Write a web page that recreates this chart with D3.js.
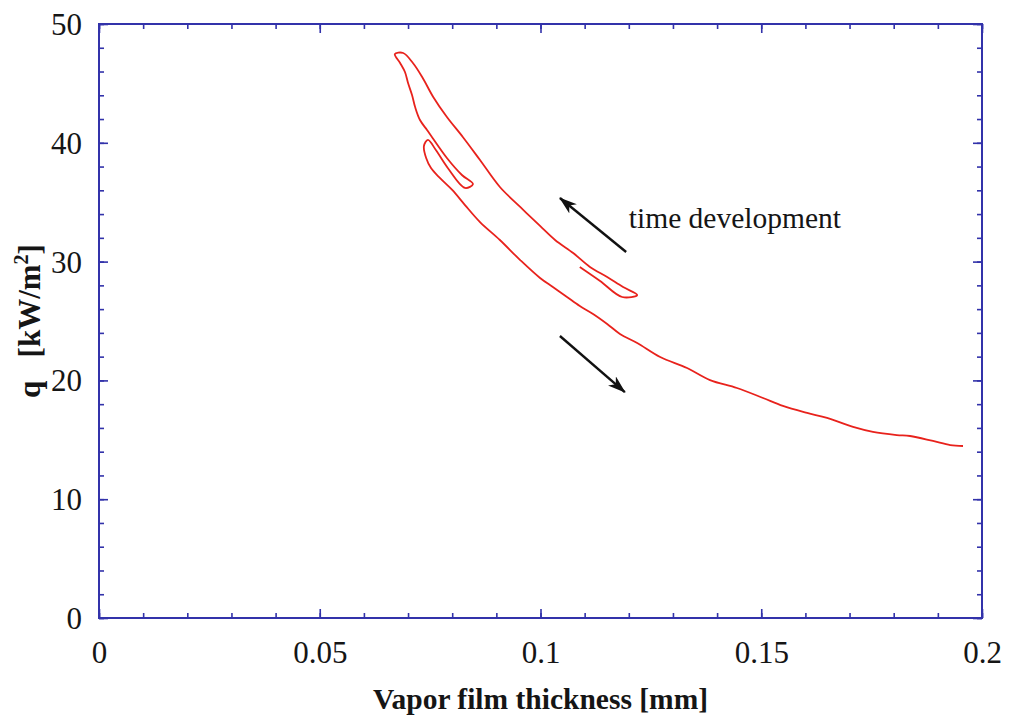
<!DOCTYPE html>
<html>
<head>
<meta charset="utf-8">
<script src="https://cdn.jsdelivr.net/npm/d3@7"></script>
<style>
  html, body { margin: 0; padding: 0; background: #ffffff; }
  svg { display: block; }
</style>
</head>
<body>
<svg id="chart" width="1010" height="720"></svg>
<script>
// Vapor film thickness [mm] vs heat flux q [kW/m²], traced as one continuous path in time order
const thickness = [
  0.1089, 0.1135, 0.1185, 0.1219,
  0.1187, 0.1151, 0.1112, 0.1074, 0.1033, 0.0999, 0.0954, 0.0908, 0.0863, 0.0824,
  0.0788, 0.0757, 0.0732, 0.0711, 0.0689, 0.0670,
  0.0682, 0.0693, 0.0700, 0.0709, 0.0716, 0.0727, 0.0743, 0.0754,
  0.0788, 0.0822, 0.0847, 0.0829, 0.0790, 0.0763, 0.0745,
  0.0736, 0.0741, 0.0752, 0.0772, 0.0800, 0.0829, 0.0863, 0.0908, 0.0954, 0.0999,
  0.1028, 0.1060, 0.1089, 0.1119, 0.1151, 0.1180, 0.1219, 0.1271, 0.1332, 0.1384,
  0.1445, 0.1504, 0.1549, 0.1604, 0.1649, 0.1708, 0.1753, 0.1807, 0.1837, 0.1889,
  0.1928, 0.1957
];
const heatFlux = [
  29.55, 28.37, 27.02, 27.19,
  27.86, 28.70, 29.55, 30.72, 31.82, 33.00, 34.60, 36.28, 38.55, 40.49,
  42.17, 43.86, 45.54, 46.72, 47.56, 47.47,
  46.72, 45.96, 45.03, 44.02, 43.01, 41.92, 41.08, 40.49,
  38.72, 37.29, 36.53, 36.20, 37.88, 39.39, 40.24,
  39.73, 38.72, 37.88, 37.04, 36.03, 34.76, 33.33, 31.82, 30.13, 28.62,
  27.86, 27.02, 26.26, 25.59, 24.75, 23.91, 23.15, 21.97, 21.04, 20.03,
  19.36, 18.52, 17.85, 17.26, 16.84, 16.08, 15.66, 15.40, 15.32, 14.90,
  14.56, 14.48
];

const xMajorTicks = [0, 0.05, 0.1, 0.15, 0.2];
const xTickLabels = ["0", "0.05", "0.1", "0.15", "0.2"];
const yMajorTicks = [0, 10, 20, 30, 40, 50];
const yTickLabels = ["0", "10", "20", "30", "40", "50"];

// Annotation arrows (start -> head) in data units
const arrowStarts = [[0.1194, 30.81], [0.1044, 23.74]];
const arrowHeads  = [[0.1044, 35.35], [0.1191, 19.02]];
const noteText = "time development";
const notePos = [0.1200, 33.70];

const svg = d3.select("#chart");
const plotLeft = 99, plotRight = 982, plotTop = 24, plotBottom = 618;
const frameColor = "#3232aa";

const x = d3.scaleLinear().domain([0, 0.2]).range([plotLeft, plotRight]);
const y = d3.scaleLinear().domain([0, 50]).range([plotBottom, plotTop]);

const serif = "'Liberation Serif', 'Times New Roman', serif";

// Ticks on all four sides, pointing inward
const xMinor = d3.range(0, 0.2001, 0.01);
const yMinor = d3.range(0, 50.001, 2);

function drawAxis(axisFn, scale, values, size, transform) {
  const g = svg.append("g").attr("transform", transform)
    .call(axisFn(scale).tickValues(values).tickSize(size).tickFormat(""));
  g.select(".domain").remove();
  g.selectAll(".tick line").attr("stroke", frameColor).attr("stroke-width", 1.6);
  return g;
}

drawAxis(d3.axisBottom, x, xMinor, -5, `translate(0,${plotBottom})`);
drawAxis(d3.axisBottom, x, xMajorTicks, -9, `translate(0,${plotBottom})`);
drawAxis(d3.axisTop, x, xMinor, -5, `translate(0,${plotTop})`);
drawAxis(d3.axisTop, x, xMajorTicks, -9, `translate(0,${plotTop})`);
drawAxis(d3.axisLeft, y, yMinor, -5, `translate(${plotLeft},0)`);
drawAxis(d3.axisLeft, y, yMajorTicks, -9, `translate(${plotLeft},0)`);
drawAxis(d3.axisRight, y, yMinor, -5, `translate(${plotRight},0)`);
drawAxis(d3.axisRight, y, yMajorTicks, -9, `translate(${plotRight},0)`);

// Frame
svg.append("rect")
  .attr("x", plotLeft).attr("y", plotTop)
  .attr("width", plotRight - plotLeft).attr("height", plotBottom - plotTop)
  .attr("fill", "none").attr("stroke", frameColor).attr("stroke-width", 2);

// Tick labels
const xLab = svg.append("g")
  .attr("transform", `translate(0,${plotBottom})`)
  .call(d3.axisBottom(x).tickValues(xMajorTicks).tickSize(0).tickPadding(0)
        .tickFormat((d, i) => xTickLabels[i]));
xLab.select(".domain").remove();
xLab.selectAll("text")
  .attr("dy", null).attr("y", 45)
  .style("font-family", serif).style("font-size", "31px").attr("fill", "#151515");

const yLab = svg.append("g")
  .attr("transform", `translate(${plotLeft},0)`)
  .call(d3.axisLeft(y).tickValues(yMajorTicks).tickSize(0).tickPadding(0)
        .tickFormat((d, i) => yTickLabels[i]));
yLab.select(".domain").remove();
yLab.selectAll("text")
  .attr("x", -17).attr("dy", "0.34em")
  .style("font-family", serif).style("font-size", "31px").attr("fill", "#151515");

// Axis titles
svg.append("text")
  .attr("x", (plotLeft + plotRight) / 2).attr("y", 709)
  .attr("text-anchor", "middle")
  .style("font-family", serif).style("font-size", "29.5px").style("font-weight", "bold")
  .attr("fill", "#151515")
  .text("Vapor film thickness [mm]");

const yTitle = svg.append("text")
  .attr("transform", `translate(40,${(plotTop + plotBottom) / 2}) rotate(-90)`)
  .attr("text-anchor", "middle")
  .attr("xml:space", "preserve")
  .style("white-space", "pre")
  .style("font-family", serif).style("font-size", "31px").style("font-weight", "bold")
  .attr("fill", "#151515");
yTitle.append("tspan").text("q   [kW/m");
yTitle.append("tspan").attr("dy", -12).style("font-size", "20px").text("2");
yTitle.append("tspan").attr("dy", 12).text("]");

// Data curve
const points = thickness.map((t, i) => [t, heatFlux[i]]);
svg.append("path")
  .datum(points)
  .attr("fill", "none")
  .attr("stroke", "#e8221c")
  .attr("stroke-width", 1.8)
  .attr("stroke-linejoin", "round")
  .attr("d", d3.line().x(d => x(d[0])).y(d => y(d[1])).curve(d3.curveCatmullRom.alpha(0.5)));

// Arrows
svg.append("defs").append("marker")
  .attr("id", "head")
  .attr("viewBox", "0 0 18 12")
  .attr("refX", 17).attr("refY", 6)
  .attr("markerWidth", 18).attr("markerHeight", 12)
  .attr("markerUnits", "userSpaceOnUse")
  .attr("orient", "auto")
  .append("path")
  .attr("d", "M0,0 L18,6 L0,12 L5,6 Z")
  .attr("fill", "#111");

svg.selectAll("line.arrow")
  .data(arrowStarts)
  .enter().append("line")
  .attr("class", "arrow")
  .attr("x1", d => x(d[0])).attr("y1", d => y(d[1]))
  .attr("x2", (d, i) => x(arrowHeads[i][0])).attr("y2", (d, i) => y(arrowHeads[i][1]))
  .attr("stroke", "#111").attr("stroke-width", 2.4)
  .attr("marker-end", "url(#head)");

svg.append("text")
  .attr("x", x(notePos[0])).attr("y", y(notePos[1]) + 10)
  .style("font-family", serif).style("font-size", "29.5px")
  .attr("fill", "#151515")
  .text(noteText);
</script>
</body>
</html>
